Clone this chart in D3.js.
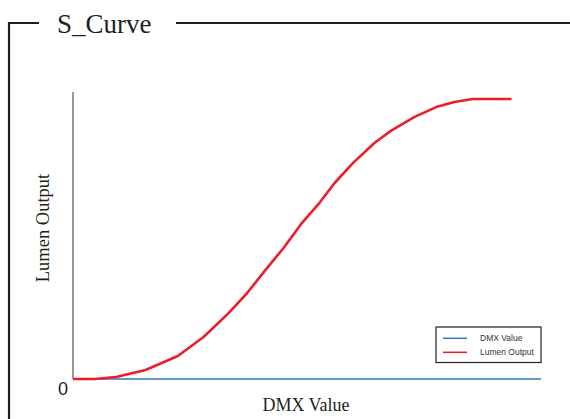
<!DOCTYPE html>
<html>
<head>
<meta charset="utf-8">
<script src="https://cdn.jsdelivr.net/npm/d3@7"></script>
<style>
  html, body { margin: 0; padding: 0; background: #fff; }
  svg { display: block; }
</style>
</head>
<body>
<svg id="chart" width="570" height="419"></svg>
<script>
// ---- data (DMX in % of full scale, lumen in % of max) ----
const dmxPct   = [0, 4.6, 9.2, 15.5, 22.4, 27.9, 33.3, 37.2, 41.1, 45.0, 48.9, 52.8, 55.9, 59.8, 64.4, 67.9, 73.0, 77.6, 81.5, 85.4, 93.7];
const lumenPct = [0, 0, 0.7, 3.2, 8.2, 15.0, 23.6, 30.7, 38.9, 46.8, 55.7, 63.2, 70.0, 77.1, 84.3, 88.6, 93.6, 97.1, 98.9, 100, 100];
const dmxLine  = [0, 100];
const dmxLineY = [0, 0];
const seriesNames = ["DMX Value", "Lumen Output"];
const seriesColors = ["#2a78b8", "#ec1c2e"];
const yTickLabels = ["0"];
const titleText = "S_Curve";
const xLabel = "DMX Value";
const yLabel = "Lumen Output";

const svg = d3.select("#chart");

// frame
const frameColor = "#1e1e1e";
svg.append("path")
  .attr("d", "M9,419 L9,23 L39,23")
  .attr("fill", "none").attr("stroke", frameColor).attr("stroke-width", 2.2);
svg.append("line")
  .attr("x1", 176).attr("x2", 570).attr("y1", 23).attr("y2", 23)
  .attr("stroke", frameColor).attr("stroke-width", 2.2);
svg.append("text")
  .attr("x", 57).attr("y", 33)
  .attr("font-family", "Liberation Serif, Times New Roman, serif")
  .attr("font-size", 27)
  .attr("fill", "#231f20")
  .text(titleText);

// scales
const x = d3.scaleLinear().domain([0, 100]).range([73, 541]);
const y = d3.scaleLinear().domain([0, 100]).range([379, 99]);

// y axis line
svg.append("line")
  .attr("x1", x(0)).attr("x2", x(0))
  .attr("y1", y(0)).attr("y2", y(102.5))
  .attr("stroke", "#333").attr("stroke-width", 1);

// zero label
svg.append("text")
  .attr("x", 63).attr("y", 395)
  .attr("text-anchor", "middle")
  .attr("font-family", "Liberation Sans, Arial, sans-serif")
  .attr("font-size", 18)
  .attr("fill", "#231f20")
  .text(yTickLabels[0]);

// axis labels
svg.append("text")
  .attr("x", 306).attr("y", 411)
  .attr("text-anchor", "middle")
  .attr("font-family", "Liberation Serif, Times New Roman, serif")
  .attr("font-size", 18)
  .attr("fill", "#231f20")
  .text(xLabel);
svg.append("text")
  .attr("transform", "translate(49,228) rotate(-90)")
  .attr("text-anchor", "middle")
  .attr("font-family", "Liberation Serif, Times New Roman, serif")
  .attr("font-size", 18.5)
  .attr("fill", "#231f20")
  .text(yLabel);

// lines
const line = d3.line().x(d => x(d[0])).y(d => y(d[1]));
svg.append("path")
  .datum(dmxLine.map((v, i) => [v, dmxLineY[i]]))
  .attr("d", line)
  .attr("fill", "none").attr("stroke", seriesColors[0]).attr("stroke-width", 1.4);
svg.append("path")
  .datum(dmxPct.map((v, i) => [v, lumenPct[i]]))
  .attr("d", line)
  .attr("fill", "none").attr("stroke", seriesColors[1]).attr("stroke-width", 2.6)
  .attr("stroke-linejoin", "round");

// legend
const lg = svg.append("g");
lg.append("rect")
  .attr("x", 436).attr("y", 327).attr("width", 105).attr("height", 35.5)
  .attr("fill", "#fff").attr("stroke", "#222").attr("stroke-width", 1.2);
seriesNames.forEach((name, i) => {
  const yy = 338.3 + i * 14;
  lg.append("line")
    .attr("x1", 443).attr("x2", 467).attr("y1", yy).attr("y2", yy)
    .attr("stroke", seriesColors[i]).attr("stroke-width", 1.5);
  lg.append("text")
    .attr("x", 480).attr("y", yy + 2.8)
    .attr("font-family", "Liberation Sans, Arial, sans-serif")
    .attr("font-size", 8.5)
    .attr("fill", "#333")
    .text(name);
});
</script>
</body>
</html>
